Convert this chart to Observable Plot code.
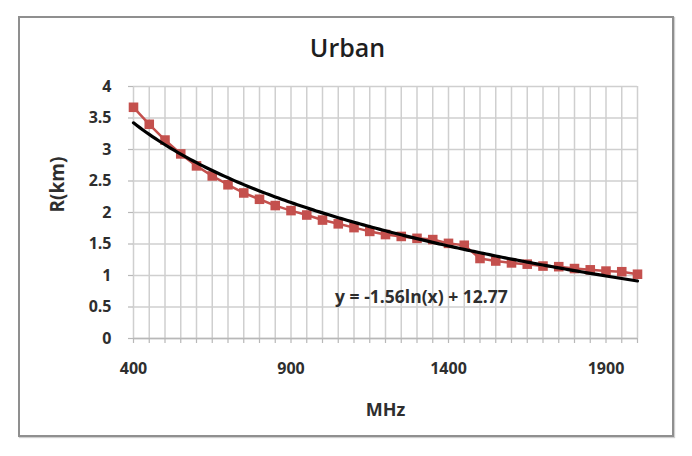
<!DOCTYPE html>
<html>
<head>
<meta charset="utf-8">
<script src="https://cdn.jsdelivr.net/npm/d3@7"></script>
<script src="https://cdn.jsdelivr.net/npm/@observablehq/plot@0.6"></script>
<style>
  html, body { margin: 0; padding: 0; background: #fff; }
  #wrap { position: relative; width: 692px; height: 456px; }
  #border { position: absolute; left: 18px; top: 16px; width: 652px; height: 417px;
            border: 2px solid #8f8f8f; box-shadow: 1px 1px 1px #cfcfcf; }
  #chart { position: absolute; left: 0; top: 0; }
</style>
</head>
<body>
<div id="wrap"><div id="border"></div><div id="chart"></div></div>
<script>
// ---- data ----
const title = "Urban";
const xTitle = "MHz";
const yTitle = "R(km)";
const freqMHz = [400, 450, 500, 550, 600, 650, 700, 750, 800, 850, 900, 950, 1000, 1050, 1100, 1150, 1200,
                 1250, 1300, 1350, 1400, 1450, 1500, 1550, 1600, 1650, 1700, 1750, 1800, 1850, 1900, 1950, 2000];
const radiusKm = [3.67, 3.40, 3.15, 2.93, 2.74, 2.58, 2.44, 2.31, 2.21, 2.11, 2.03, 1.96, 1.88, 1.82, 1.76, 1.70, 1.65,
                  1.62, 1.59, 1.57, 1.51, 1.48, 1.27, 1.23, 1.20, 1.18, 1.15, 1.14, 1.11, 1.09, 1.07, 1.06, 1.02];
const xTickLabels = [400, 900, 1400, 1900];
const xGridValues = freqMHz;
const yTickValues = [0, 0.5, 1, 1.5, 2, 2.5, 3, 3.5, 4];
// logarithmic trendline as printed on the chart
const trendSlope = -1.56;
const trendIntercept = 12.77;
const equationText = "y = -1.56ln(x) + 12.77";
const equationAnchor = {x: 1040, y: 0.65};

const points = freqMHz.map((f, i) => ({f, r: radiusKm[i]}));
const trend = d3.range(400, 2001, 10).map(f => ({f, r: trendSlope * Math.log(f) + trendIntercept}));

const red = "#c4504d";
const textColor = "#2e2e2e";
const gridColor = "#cfcfcf";

const chart = Plot.plot({
  width: 692,
  height: 456,
  marginLeft: 133,
  marginRight: 55,
  marginTop: 86,
  marginBottom: 118,
  style: {fontFamily: "'Open Sans', sans-serif", background: "transparent", overflow: "visible"},
  x: {domain: [400, 2000]},
  y: {domain: [0, 4]},
  marks: [
    Plot.gridX(xGridValues, {stroke: gridColor, strokeOpacity: 1, strokeWidth: 1.5}),
    Plot.gridY(yTickValues, {stroke: gridColor, strokeOpacity: 1, strokeWidth: 1.5}),
    Plot.ruleY([0], {stroke: "#b8b8b8", strokeWidth: 1.5}),
    Plot.axisX(xGridValues, {
      tickSize: 5, tickPadding: 19, stroke: "#b8b8b8", strokeWidth: 1.2,
      tickFormat: d => xTickLabels.includes(d) ? String(d) : "",
      fill: textColor, fontSize: 16, fontWeight: 700, label: null
    }),
    Plot.axisY(yTickValues, {
      tickSize: 5, tickPadding: 17, stroke: "#b8b8b8", strokeWidth: 1.2,
      tickFormat: d => String(d),
      fill: textColor, fontSize: 16, fontWeight: 700, label: null
    }),
    Plot.line(points, {x: "f", y: "r", stroke: red, strokeWidth: 2.5}),
    Plot.dot(points, {x: "f", y: "r", symbol: "square", r: 5.4, fill: red, stroke: "none"}),
    Plot.line(trend, {x: "f", y: "r", stroke: "#000", strokeWidth: 3.2}),
    Plot.text([equationText], {
      x: () => equationAnchor.x, y: () => equationAnchor.y, text: d => d,
      textAnchor: "start", fill: textColor, fontSize: 17.5, fontWeight: 700
    }),
    Plot.text([title], {frameAnchor: "top", dx: -38, dy: -38, text: d => d,
      fill: "#1e1e1e", fontSize: 25, fontWeight: 600, lineAnchor: "middle"}),
    Plot.text([xTitle], {frameAnchor: "bottom", dy: 72, text: d => d,
      fill: textColor, fontSize: 18, fontWeight: 700, lineAnchor: "middle"}),
    Plot.text([yTitle], {frameAnchor: "left", dx: -76, rotate: -90, text: d => d,
      fill: textColor, fontSize: 19, fontWeight: 700, lineAnchor: "middle"})
  ]
});
document.getElementById("chart").appendChild(chart);
</script>
</body>
</html>
